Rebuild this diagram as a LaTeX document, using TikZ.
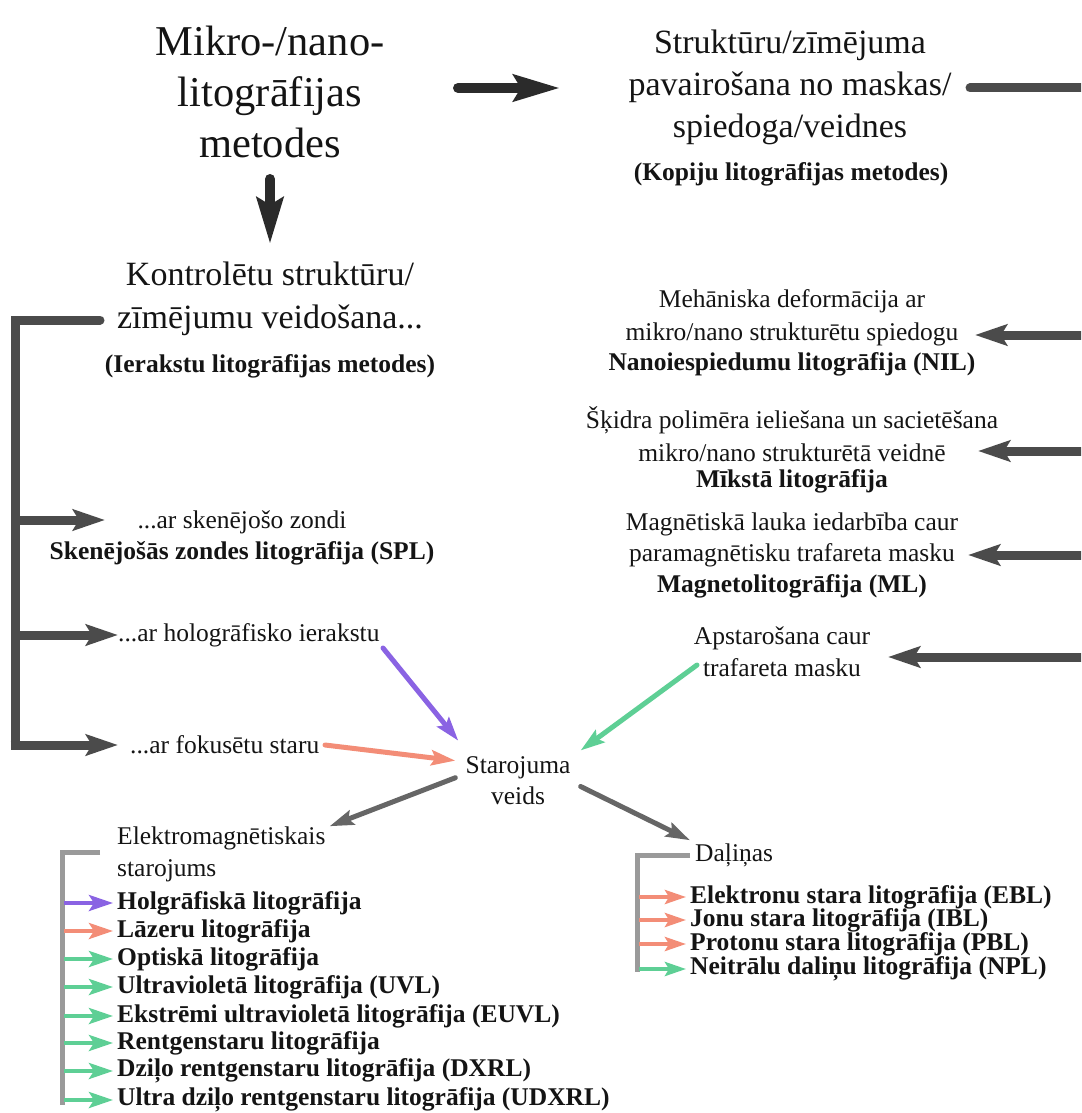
\documentclass[tikz,border=0pt]{standalone}
\usepackage{fontspec}
\setmainfont{Liberation Serif}
\usetikzlibrary{arrows.meta}
\definecolor{txtblack}{HTML}{141414}
\definecolor{inkdark}{HTML}{2B2B2B}
\definecolor{busgray}{HTML}{4B4B4B}
\definecolor{raygray}{HTML}{666666}
\definecolor{listgray}{HTML}{9A9A9A}
\definecolor{holoc}{HTML}{8A63E3}
\definecolor{laserc}{HTML}{F38D77}
\definecolor{beamc}{HTML}{5ECF95}
\begin{document}
\begin{tikzpicture}[x=1pt,y=-1pt,
  lbl/.style={inner sep=0pt, text=txtblack},
  big/.style={lbl, align=center, font=\fontsize{42.5}{51}\selectfont},
  mid/.style={lbl, align=center, font=\fontsize{34}{42}\selectfont},
  small/.style={lbl, align=center, font=\fontsize{25.5}{33}\selectfont},
  smallb/.style={lbl, align=center, font=\fontsize{25.5}{33}\selectfont\bfseries},
  item/.style={lbl, anchor=west, font=\fontsize{25.5}{28}\selectfont\bfseries},
  heavy/.style={draw=inkdark, line width=10pt, line cap=round, -{Stealth[length=46pt,width=26pt,inset=7pt]}},
  busln/.style={draw=busgray, line width=9pt, line cap=round},
  busarr/.style={draw=busgray, line width=9pt, -{Stealth[length=32pt,width=21pt,inset=6pt]}},
  raysty/.style={line width=5pt, line cap=round, -{Stealth[length=24pt,width=15pt,inset=4pt]}},
  lstbus/.style={draw=listgray, line width=5pt},
  lstarr/.style={line width=4pt, -{Stealth[length=24pt,width=16pt,inset=5pt]}},
  lstarrs/.style={line width=4pt, -{Stealth[length=21pt,width=14pt,inset=4pt]}}
]
\useasboundingbox (0,0) rectangle (1081,1113);
\clip (0,0) rectangle (1081,1113);

% ---------- top level ----------
\node[big] (title) at (270,92) {Mikro-/nano-\\litogrāfijas\\metodes};
\node[mid] (copy) at (790,87) {Struktūru/zīmējuma\\pavairošana no maskas/\\spiedoga/veidnes};
\node[smallb] (copynote) at (791,174) {(Kopiju litogrāfijas metodes)};
\node[mid, font=\fontsize{34}{43}\selectfont] (write) at (270,298.5) {Kontrolētu struktūru/\\zīmējumu veidošana...};
\node[smallb] (writenote) at (270,366) {(Ierakstu litogrāfijas metodes)};

\coordinate (hA) at (458,88);
\coordinate (hB) at (560,88);
\coordinate (vA) at (270,179);
\coordinate (vB) at (270,244);
\draw[heavy] (hA) -- (hB);
\draw[heavy] (vA) -- (vB);

% ---------- writing methods (left bus) ----------
\node[small, font=\fontsize{25.5}{31}\selectfont] (spl) at (242,537.5) {...ar skenējošo zondi\\\textbf{Skenējošās zondes litogrāfija (SPL)}};
\node[small, anchor=west] (holo) at (118,635) {...ar hologrāfisko ierakstu};
\node[small, anchor=west] (focus) at (130,745) {...ar fokusētu staru};

\coordinate (lbTop) at (100,320);
\coordinate (lbCorner) at (15,320);
\coordinate (lbBottom) at (15,745);
\coordinate (lb1) at (15,520);
\coordinate (lb2) at (15,635);
\coordinate (splTip) at (105,520);
\coordinate (holoTip) at (118,635);
\coordinate (focusTip) at (118,745);
\draw[busln] (lbTop) -- (lbCorner) -- (lbBottom);
\draw[busarr] ([xshift=-4.5pt]lbBottom) -- (focusTip);
\draw[busarr] (lb1) -- (splTip);
\draw[busarr] (lb2) -- (holoTip);

% ---------- copy methods (right bus) ----------
\node[small] (nild) at (792,317.5) {Mehāniska deformācija ar\\mikro/nano strukturētu spiedogu};
\node[smallb] (nil) at (792,364) {Nanoiespiedumu litogrāfija (NIL)};
\node[small] (softd) at (792,434.5) {Šķidra polimēra ieliešana un sacietēšana\\mikro/nano strukturētā veidnē};
\node[smallb] (soft) at (792,481) {Mīkstā litogrāfija};
\node[small, font=\fontsize{25.5}{31}\selectfont] (magd) at (792,539.5) {Magnētiskā lauka iedarbība caur\\paramagnētisku trafareta masku};
\node[smallb] (mag) at (792,586) {Magnetolitogrāfija (ML)};
\node[small, font=\fontsize{25.5}{32}\selectfont] (irr) at (782,652) {Apstarošana caur\\trafareta masku};

\coordinate (rbStart) at (970,88);
\coordinate (rbTop) at (1100,88);
\coordinate (rbBottom) at (1100,657);
\coordinate (rb1) at (1100,335);
\coordinate (rb2) at (1100,451);
\coordinate (rb3) at (1100,555);
\coordinate (nilTip) at (975,335);
\coordinate (softTip) at (978,451);
\coordinate (magTip) at (968,555);
\coordinate (irrTip) at (888,657);
\draw[busln] (rbStart) -- (rbTop) -- (rbBottom);
\draw[busarr] (rb1) -- (nilTip);
\draw[busarr] (rb2) -- (softTip);
\draw[busarr] (rb3) -- (magTip);
\draw[busarr] (rbBottom) -- (irrTip);

% ---------- radiation type ----------
\node[small, font=\fontsize{25.5}{31}\selectfont, inner xsep=10pt, inner ysep=16pt] (ray) at (518,781) {Starojuma\\veids};
\coordinate (holoOut) at (383,648);
\coordinate (focusOut) at (325,745);
\coordinate (irrOut) at (697,665);
\draw[raysty, draw=holoc] (holoOut) -- (ray.146);
\draw[raysty, draw=laserc] (focusOut) -- (ray.162);
\draw[raysty, draw=beamc] (irrOut) -- (ray.26);

\node[small, anchor=west, align=left, font=\fontsize{25.5}{32}\selectfont] (em) at (117,854) {Elektromagnētiskais\\starojums};
\node[small, anchor=west] (dal) at (695,855) {Daļiņas};
\draw[raysty, draw=raygray] (ray.177) -- ([xshift=4pt]em.north east);
\draw[raysty, draw=raygray] (ray.-5) -- ([xshift=-5pt,yshift=3pt]dal.north west);

% ---------- electromagnetic list ----------
\draw[lstbus] (100,852) -- (62,852) -- (62,1105);
\foreach \y/\c/\t [count=\i] in {
  903/holoc/Holgrāfiskā litogrāfija,
  931/laserc/Lāzeru litogrāfija,
  959/beamc/Optiskā litogrāfija,
  987/beamc/Ultravioletā litogrāfija (UVL),
  1016/beamc/Ekstrēmi ultravioletā litogrāfija (EUVL),
  1043/beamc/Rentgenstaru litogrāfija,
  1071/beamc/Dziļo rentgenstaru litogrāfija (DXRL),
  1100/beamc/Ultra dziļo rentgenstaru litogrāfija (UDXRL)}{
  \node[item] (em\i) at (117,\y) {\t};
  \coordinate (emsrc\i) at (64,\y);
  \draw[lstarr, draw=\c] (emsrc\i) -- ([xshift=-4pt]em\i.west);
}

% ---------- particle list ----------
\draw[lstbus] (690,855) -- (637,855) -- (637,972);
\foreach \y/\c/\t [count=\i] in {
  897/laserc/Elektronu stara litogrāfija (EBL),
  920/laserc/Jonu stara litogrāfija (IBL),
  944/laserc/Protonu stara litogrāfija (PBL),
  969/beamc/Neitrālu daliņu litogrāfija (NPL)}{
  \node[item] (pt\i) at (690,\y) {\t};
  \coordinate (ptsrc\i) at (639,\y);
  \draw[lstarrs, draw=\c] (ptsrc\i) -- ([xshift=-4pt]pt\i.west);
}
\end{tikzpicture}
\end{document}
